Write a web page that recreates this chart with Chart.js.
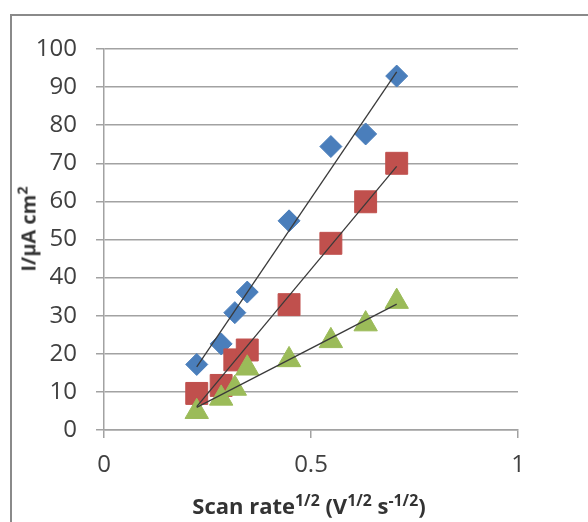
<!DOCTYPE html>
<html>
<head>
<meta charset="utf-8">
<script src="https://cdn.jsdelivr.net/npm/chart.js@4.4.1/dist/chart.umd.min.js"></script>
<style>
    body { margin: 0; background: #fff; }
    #wrap { position: relative; width: 588px; height: 522px; overflow: hidden; }
    #frame {
        position: absolute; left: 10px; top: 14px; width: 700px; height: 700px;
        border: 2px solid #8a8a8a; box-sizing: border-box;
    }
    #chart { position: absolute; left: 0; top: 0; }
    .axis-title {
        position: absolute; white-space: nowrap; color: #333;
        font-family: 'Open Sans', sans-serif; font-weight: bold;
        transform-origin: center center;
    }
    .axis-title sup { font-size: 0.72em; line-height: 0; }
    #xTitle { left: 309px; top: 505px; font-size: 22px; transform: translate(-50%, -50%); }
    #yTitle { left: 28px; top: 229px; font-size: 20px; transform: translate(-50%, -50%) rotate(-90deg); }
</style>
</head>
<body>
<div id="wrap">
    <div id="frame"></div>
    <canvas id="chart" width="588" height="522"></canvas>
    <div id="xTitle" class="axis-title">Scan rate<sup>1/2</sup> (V<sup>1/2</sup> s<sup>-1/2</sup>)</div>
    <div id="yTitle" class="axis-title">I/µA cm<sup>2</sup></div>
</div>
<script>
// ---- data ----
const scanRates = [0.224, 0.283, 0.316, 0.346, 0.447, 0.548, 0.632, 0.707];
const blueSeries = [17.2, 22.6, 30.8, 36.2, 54.9, 74.4, 77.7, 92.9];
const redSeries = [9.6, 11.7, 18.4, 21.0, 32.9, 49.0, 59.9, 70.0];
const greenSeries = [4.8, 8.3, 10.9, 16.2, 18.4, 23.4, 27.8, 33.7];
const xTicks = [0, 0.5, 1];
const yTicks = [0, 10, 20, 30, 40, 50, 60, 70, 80, 90, 100];

const BLUE = '#4a7ebb';
const RED = '#c0504d';
const GREEN = '#9bbb59';
const GRID = '#a2a2a2';
const TEXT = '#404040';

function toPoints(ys) {
    return scanRates.map((x, i) => ({ x: x, y: ys[i] }));
}

// least squares trendline, drawn from the first to the last x
function trendline(ys) {
    const n = scanRates.length;
    const mx = scanRates.reduce((a, b) => a + b, 0) / n;
    const my = ys.reduce((a, b) => a + b, 0) / n;
    let sxy = 0, sxx = 0;
    scanRates.forEach((x, i) => {
        sxy += (x - mx) * (ys[i] - my);
        sxx += (x - mx) * (x - mx);
    });
    const slope = sxy / sxx;
    const x0 = Math.min(...scanRates), x1 = Math.max(...scanRates);
    return [
        { x: x0, y: my + slope * (x0 - mx) },
        { x: x1, y: my + slope * (x1 - mx) }
    ];
}

function markerSet(ys, color, style, radius, order) {
    return {
        data: toPoints(ys),
        showLine: false,
        pointStyle: style,
        pointRadius: radius,
        pointHoverRadius: radius,
        pointBackgroundColor: color,
        pointBorderColor: color,
        pointBorderWidth: 1,
        order: order
    };
}

function trendSet(ys) {
    return {
        data: trendline(ys),
        showLine: true,
        borderColor: '#3a3a3a',
        borderWidth: 1.3,
        pointRadius: 0,
        fill: false,
        order: 1
    };
}

new Chart(document.getElementById('chart'), {
    type: 'scatter',
    data: {
        datasets: [
            markerSet(blueSeries, BLUE, 'rectRot', 11, 6),
            markerSet(redSeries, RED, 'rect', 15.5, 5),
            markerSet(greenSeries, GREEN, 'triangle', 13.5, 4),
            trendSet(blueSeries),
            trendSet(redSeries),
            trendSet(greenSeries)
        ]
    },
    options: {
        responsive: false,
        animation: false,
        layout: { padding: { left: 0, top: 49, right: 70, bottom: 0 } },
        plugins: {
            legend: { display: false },
            tooltip: { enabled: false }
        },
        scales: {
            x: {
                type: 'linear',
                min: 0,
                max: 1,
                afterBuildTicks: scale => { scale.ticks = xTicks.map(v => ({ value: v })); },
                afterFit: scale => { scale.height = 92; },
                ticks: {
                    padding: 13,
                    color: TEXT,
                    font: { family: 'Open Sans', size: 24 },
                    callback: v => String(v)
                },
                grid: { drawOnChartArea: false, drawTicks: true, tickLength: 8, color: GRID, lineWidth: 1.5 },
                border: { color: GRID, width: 1.5 }
            },
            y: {
                type: 'linear',
                min: 0,
                max: 100,
                afterBuildTicks: scale => { scale.ticks = yTicks.map(v => ({ value: v })); },
                afterFit: scale => { scale.width = 104; },
                ticks: {
                    padding: 19,
                    color: TEXT,
                    font: { family: 'Open Sans', size: 24 }
                },
                grid: { drawTicks: true, tickLength: 8, color: GRID, lineWidth: 1.5 },
                border: { color: GRID, width: 1.5 }
            }
        }
    }
});
</script>
</body>
</html>
